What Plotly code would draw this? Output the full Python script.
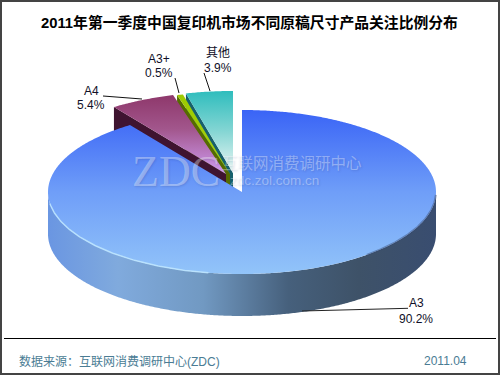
import numpy as np
import plotly.graph_objects as go

# data
categories = ["A3", "A4", "A3+", "其他"]
shares = [90.2, 5.4, 0.5, 3.9]
share_labels = ["90.2%", "5.4%", "0.5%", "3.9%"]
title_text = "2011年第一季度中国复印机市场不同原稿尺寸产品关注比例分布"
source_text = "数据来源：互联网消费调研中心(ZDC)"
date_text = "2011.04"

# projection of the 3D pie, in page pixels
RX, RY, DEPTH = 194, 82, 42
CENTERS = [(242, 192), (226, 174), (230, 174), (233, 173)]
TOP_COLORS = [
    [[0, "#3a64f6"], [0.5, "#6f9ef8"], [1, "#92c4f9"]],
    [[0, "#8c3568"], [0.45, "#a2568c"], [1, "#cf9cf2"]],
    [[0, "#9ccb00"], [1, "#a8d010"]],
    [[0, "#2fbdbd"], [0.5, "#86d6d4"], [1, "#eef8f5"]],
]
SIDE_COLORS = [None, "#3f1430", "#566b00", "#17606c"]
FONT = "Liberation Sans, Noto Sans CJK SC, sans-serif"
BLUE_TEXT = "#4a7c94"

# cumulative sweep, clockwise from twelve o'clock
ends = np.cumsum(shares) / np.sum(shares) * 360
starts = np.concatenate([[0], ends[:-1]])


def rim(i, a, b, dy=0):
    t = np.radians(np.linspace(a, b, max(3, int(abs(b - a) * 2))))
    cx, cy = CENTERS[i]
    return cx + RX * np.sin(t), cy - RY * np.cos(t) + dy


fig = go.Figure()


def poly(x, y, **kw):
    fig.add_trace(go.Scatter(x=list(x), y=list(y), fill="toself", mode="none",
                             hoverinfo="skip", showlegend=False, **kw))


def gradient(kind, scale, lo, hi):
    return dict(type=kind, colorscale=scale, start=lo, stop=hi)


# exploded slices, back to front; each shows its left cut face then its top
for i in [3, 2, 1]:
    cx, cy = CENTERS[i]
    ex, ey = rim(i, starts[i], starts[i])
    poly([cx, ex[0], ex[0], cx], [cy, ey[0], ey[0] + DEPTH, cy + DEPTH],
         fillcolor=SIDE_COLORS[i])
    ax, ay = rim(i, starts[i], ends[i])
    poly(np.r_[cx, ax, cx], np.r_[cy, ay, cy],
         fillgradient=gradient("vertical", TOP_COLORS[i], cy - RY, cy))

# main slice: outer wall, then top
cx, cy = CENTERS[0]
fx, fy = rim(0, 90, 270)
bx, by = rim(0, 270, 90, DEPTH)
poly(np.r_[fx, bx], np.r_[fy, by], fillgradient=gradient(
    "horizontal",
    [[0, "#6a96e2"], [0.18, "#80aadd"], [0.4, "#7199c2"], [0.62, "#46607c"],
     [0.8, "#3e5268"], [1, "#394d70"]],
    cx - RX, cx + RX))
ax, ay = rim(0, starts[0], ends[0])
poly(np.r_[cx, ax, cx], np.r_[cy, ay, cy],
     fillgradient=gradient("vertical", TOP_COLORS[0], cy - RY, cy + RY))

# rim highlight (left) and soft shade (right)
hx, hy = rim(0, 190, 262)
fig.add_trace(go.Scatter(x=hx, y=hy, mode="lines", hoverinfo="skip", showlegend=False,
                         line=dict(color="rgba(190,230,255,0.85)", width=1.5)))
sx, sy = rim(0, 92, 140)
fig.add_trace(go.Scatter(x=sx, y=sy, mode="lines", hoverinfo="skip", showlegend=False,
                         line=dict(color="rgba(50,70,110,0.45)", width=2)))

shapes = [
    dict(type="line", x0=302, y0=311, x1=408, y1=308.3, line=dict(color="#222222", width=1)),
    dict(type="line", x0=103, y0=96, x1=142, y1=99, line=dict(color="#111111", width=1)),
    dict(type="line", x0=175, y0=78, x1=179, y1=93, line=dict(color="#111111", width=1)),
    dict(type="line", x0=204, y0=73, x1=210, y1=91, line=dict(color="#111111", width=1)),
    dict(type="line", x0=4, y0=338.5, x1=496, y1=338.5, line=dict(color="#000000", width=1)),
    dict(type="rect", x0=1, y0=1, x1=499, y1=374, line=dict(color="#444444", width=2)),
]


def note(x, y, text, size=12, color="#101028", anchor="center", family=FONT, **font_extra):
    return dict(x=x, y=y, text=text, showarrow=False, xanchor=anchor, yanchor="middle",
                font=dict(size=size, color=color, family=family, **font_extra))


SHADOW = "1px 1px 2px rgba(40,50,110,0.45)"
WM = "rgba(255,255,255,0.36)"
label_pos = [(416, 303, 319), (91, 91, 105), (159, 59, 73), (218, 53, 68)]
annotations = [
    note(176, 171, "ZDC", 44, WM, family="Liberation Serif, serif", shadow=SHADOW),
    note(292, 163, "互联网消费调研中心", 15.5, WM, shadow=SHADOW),
    note(274, 180, "zdc.zol.com.cn", 13.5, WM, shadow=SHADOW),
    note(249, 22, "<b>" + title_text + "</b>", 14.8, "#000000"),
    note(17, 361, source_text, 12, BLUE_TEXT, anchor="left"),
    note(445, 361, date_text, 12, BLUE_TEXT),
]
for name, pct, (x, y1, y2) in zip(categories, share_labels, label_pos):
    annotations.append(note(x, y1, name))
    annotations.append(note(x, y2, pct))

fig.update_layout(
    width=500, height=375, margin=dict(l=0, r=0, t=0, b=0),
    paper_bgcolor="white", plot_bgcolor="white", showlegend=False,
    xaxis=dict(range=[0, 500], visible=False, fixedrange=True),
    yaxis=dict(range=[375, 0], visible=False, fixedrange=True),
    shapes=shapes, annotations=annotations,
)
fig.write_html(
    "out.html",
    config=dict(displayModeBar=False),
    post_script="document.body.style.margin='0';document.body.style.overflow='hidden';",
)
